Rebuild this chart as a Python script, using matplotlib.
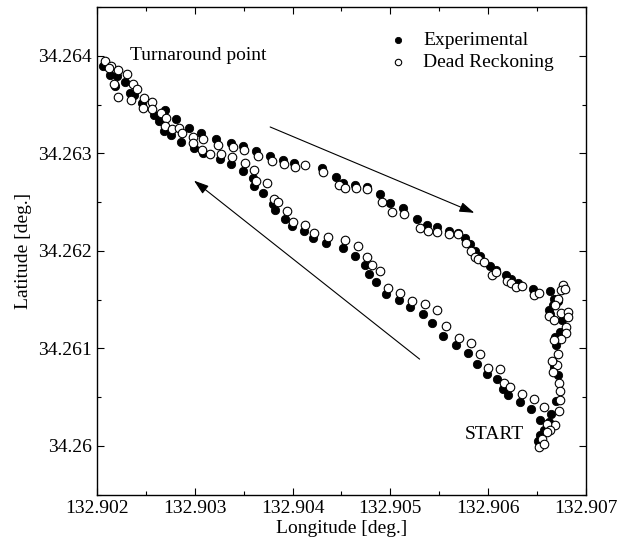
import matplotlib
matplotlib.use("Agg")
import matplotlib.pyplot as plt
from matplotlib.ticker import FixedLocator, FixedFormatter, MultipleLocator

plt.rcParams['font.family'] = ['Liberation Serif', 'DejaVu Serif']
plt.rcParams['font.size'] = 14

# ---- Data (longitude, latitude in degrees) ----
exp_lon = [
    132.90206, 132.90213, 132.90220, 132.90218, 132.90228, 132.90234, 132.90238, 132.90246,
    132.90258, 132.90263, 132.90269, 132.90268, 132.90281, 132.90275, 132.90286, 132.90294,
    132.90299, 132.90306, 132.90308, 132.90322, 132.90326, 132.90337, 132.90337, 132.90349,
    132.90349, 132.90363, 132.90359, 132.90360, 132.90370, 132.90377, 132.90390, 132.90401,
    132.90430, 132.90444, 132.90452, 132.90464, 132.90476, 132.90489, 132.90500, 132.90513,
    132.90527, 132.90538, 132.90548, 132.90560, 132.90569, 132.90576, 132.90582, 132.90587,
    132.90592, 132.90602, 132.90608, 132.90618, 132.90624, 132.90631, 132.90646, 132.90664,
    132.90380, 132.90382, 132.90392, 132.90399, 132.90412, 132.90421, 132.90434, 132.90452,
    132.90464, 132.90474, 132.90478, 132.90485, 132.90496, 132.90509, 132.90520, 132.90533,
    132.90543, 132.90554, 132.90567, 132.90580, 132.90589, 132.90599, 132.90609, 132.90615,
    132.90621, 132.90633, 132.90644, 132.90653, 132.90668, 132.90667, 132.90662, 132.90672,
    132.90676, 132.90674, 132.90669, 132.90670, 132.90667, 132.90668, 132.90672, 132.90670,
    132.90665, 132.90662, 132.90653, 132.90651, 132.90660, 132.90657, 132.90664,
]
exp_lat = [
    34.26390, 34.26380, 34.26379, 34.26369, 34.26373, 34.26362, 34.26360, 34.26352,
    34.26339, 34.26333, 34.26344, 34.26323, 34.26335, 34.26319, 34.26312, 34.26326,
    34.26305, 34.26321, 34.26300, 34.26315, 34.26294, 34.26311, 34.26289, 34.26307,
    34.26282, 34.26302, 34.26275, 34.26266, 34.26259, 34.26297, 34.26293, 34.26290,
    34.26285, 34.26276, 34.26270, 34.26268, 34.26265, 34.26258, 34.26249, 34.26244,
    34.26233, 34.26227, 34.26224, 34.26220, 34.26218, 34.26213, 34.26207, 34.26200,
    34.26195, 34.26184, 34.26180, 34.26175, 34.26171, 34.26167, 34.26161, 34.26159,
    34.26248, 34.26242, 34.26233, 34.26225, 34.26220, 34.26213, 34.26208, 34.26203,
    34.26195, 34.26185, 34.26176, 34.26168, 34.26156, 34.26150, 34.26142, 34.26135,
    34.26126, 34.26113, 34.26103, 34.26095, 34.26084, 34.26074, 34.26069, 34.26058,
    34.26052, 34.26045, 34.26038, 34.26027, 34.26151, 34.26144, 34.26139, 34.26149,
    34.26129, 34.26117, 34.26112, 34.26103, 34.26086, 34.26081, 34.26073, 34.26046,
    34.26033, 34.26025, 34.26011, 34.26005, 34.26021, 34.26016, 34.26135,
]

dr_lon = [
    132.90208, 132.90214, 132.90212, 132.90221, 132.90230, 132.90217, 132.90237, 132.90241,
    132.90235, 132.90221, 132.90248, 132.90256, 132.90247, 132.90256, 132.90265, 132.90270,
    132.90269, 132.90277, 132.90284, 132.90287, 132.90298, 132.90308, 132.90298, 132.90307,
    132.90315, 132.90324, 132.90327, 132.90339, 132.90338, 132.90350, 132.90351, 132.90365,
    132.90379, 132.90391, 132.90402, 132.90413, 132.90431, 132.90447, 132.90454, 132.90465,
    132.90476, 132.90491, 132.90502, 132.90514, 132.90530, 132.90539, 132.90548, 132.90560,
    132.90569, 132.90577, 132.90583, 132.90587, 132.90590, 132.90596, 132.90604, 132.90608,
    132.90619, 132.90624, 132.90629, 132.90635, 132.90647, 132.90652,
    132.90360, 132.90363, 132.90374, 132.90381, 132.90385, 132.90394, 132.90400, 132.90413,
    132.90422, 132.90436, 132.90454, 132.90467, 132.90476, 132.90481, 132.90489, 132.90498,
    132.90510, 132.90522, 132.90536, 132.90548, 132.90557, 132.90570, 132.90583, 132.90592,
    132.90600, 132.90612, 132.90616, 132.90623, 132.90635, 132.90647, 132.90657,
    132.90677, 132.90675, 132.90679, 132.90672, 132.90669, 132.90662, 132.90668, 132.90675,
    132.90682, 132.90682, 132.90680, 132.90680, 132.90675, 132.90668, 132.90672, 132.90671,
    132.90667, 132.90673, 132.90674, 132.90674, 132.90673, 132.90669, 132.90660, 132.90663,
    132.90660, 132.90655, 132.90652, 132.90657, 132.90666,
]
dr_lat = [
    34.26395, 34.26390, 34.26387, 34.26385, 34.26381, 34.26371, 34.26371, 34.26366,
    34.26355, 34.26358, 34.26357, 34.26353, 34.26346, 34.26345, 34.26341, 34.26336,
    34.26328, 34.26325, 34.26326, 34.26321, 34.26317, 34.26315, 34.26311, 34.26303,
    34.26299, 34.26309, 34.26299, 34.26306, 34.26296, 34.26303, 34.26290, 34.26297,
    34.26292, 34.26289, 34.26286, 34.26288, 34.26281, 34.26268, 34.26264, 34.26264,
    34.26263, 34.26250, 34.26240, 34.26238, 34.26223, 34.26220, 34.26219, 34.26217,
    34.26217, 34.26208, 34.26200, 34.26194, 34.26192, 34.26189, 34.26175, 34.26178,
    34.26169, 34.26167, 34.26163, 34.26164, 34.26155, 34.26157,
    34.26283, 34.26272, 34.26270, 34.26253, 34.26250, 34.26241, 34.26230, 34.26226,
    34.26218, 34.26214, 34.26211, 34.26205, 34.26194, 34.26185, 34.26179, 34.26162,
    34.26157, 34.26149, 34.26146, 34.26139, 34.26123, 34.26111, 34.26106, 34.26094,
    34.26080, 34.26079, 34.26065, 34.26060, 34.26053, 34.26048, 34.26040,
    34.26165, 34.26160, 34.26161, 34.26151, 34.26145, 34.26133, 34.26129, 34.26136,
    34.26137, 34.26132, 34.26122, 34.26116, 34.26110, 34.26109, 34.26094, 34.26083,
    34.26076, 34.26065, 34.26056, 34.26047, 34.26036, 34.26021, 34.26023, 34.26016,
    34.26014, 34.26007, 34.25999, 34.26002, 34.26087,
]

x_ticks = [132.902, 132.903, 132.904, 132.905, 132.906, 132.907]
x_tick_labels = ["132.902", "132.903", "132.904", "132.905", "132.906", "132.907"]
y_ticks = [34.26, 34.261, 34.262, 34.263, 34.264]
y_tick_labels = ["34.26", "34.261", "34.262", "34.263", "34.264"]

series_labels = ["Experimental", "Dead Reckoning"]

# Annotations (data coordinates)
arrow_out = ((132.90377, 34.26327), (132.90586, 34.26239))   # tail, head
arrow_back = ((132.90530, 34.26089), (132.90299, 34.26272))  # tail, head

# ---- Figure ----
fig = plt.figure(figsize=(6.35, 5.47), dpi=100)
ax = fig.add_axes([0.1532, 0.0956, 0.7691, 0.8916])

ax.scatter(exp_lon, exp_lat, s=36, c='black', edgecolors='black', linewidths=0.6,
           label=series_labels[0], zorder=3)
ax.scatter(dr_lon, dr_lat, s=38, facecolors='white', edgecolors='black', linewidths=0.8,
           label=series_labels[1], zorder=4)

ax.set_xlim(132.902, 132.907)
ax.set_ylim(34.2595, 34.2645)

ax.xaxis.set_major_locator(FixedLocator(x_ticks))
ax.xaxis.set_major_formatter(FixedFormatter(x_tick_labels))
ax.yaxis.set_major_locator(FixedLocator(y_ticks))
ax.yaxis.set_major_formatter(FixedFormatter(y_tick_labels))
ax.xaxis.set_minor_locator(MultipleLocator(0.0005))
ax.yaxis.set_minor_locator(MultipleLocator(0.0005))

ax.tick_params(which='both', direction='in', top=True, right=True, width=0.8,
               labelsize=14)
ax.tick_params(which='major', length=5, pad=4)
ax.tick_params(which='minor', length=3)
for sp in ax.spines.values():
    sp.set_linewidth(1.0)

ax.set_xlabel("Longitude [deg.]", fontsize=14, labelpad=2)
ax.set_ylabel("Latitude [deg.]", fontsize=14, labelpad=4)

ax.text(132.90234, 34.26400, "Turnaround point", fontsize=14, ha='left', va='center')
ax.text(132.90637, 34.26012, "START", fontsize=14, ha='right', va='center')

for tail, head in (arrow_out, arrow_back):
    ax.annotate('', xy=head, xytext=tail,
                arrowprops=dict(arrowstyle='-|>,head_length=0.6,head_width=0.2',
                                color='black', lw=0.8, shrinkA=0, shrinkB=0,
                                mutation_scale=15))

ax.legend(loc='upper left', bbox_to_anchor=(0.596, 0.949), frameon=False,
          fontsize=14, markerscale=0.75, handlelength=1.0, handletextpad=0.8,
          labelspacing=0.2, borderpad=0, borderaxespad=0, scatterpoints=1)

fig.savefig("out.png", dpi=100)
